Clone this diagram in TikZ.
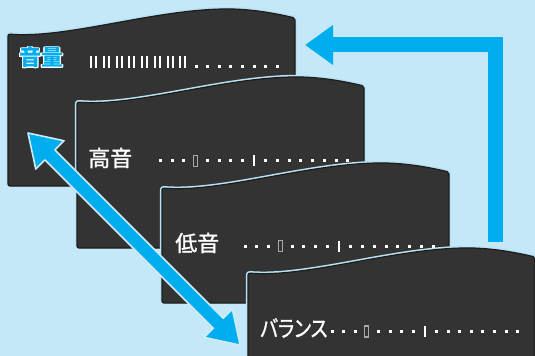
\documentclass[tikz,border=0pt]{standalone}
\usepackage{fontspec}
\usepackage{graphicx}
\usepackage{contour}
\newfontfamily\jp[FakeBold=1.2]{Noto Sans CJK JP}
\newfontfamily\jpb{Noto Sans CJK JP}
\newfontfamily\jpp[RawFeature=+palt,FakeBold=1.2]{Noto Sans CJK JP}
\usetikzlibrary{arrows.meta,calc}
\definecolor{bgc}{HTML}{C5E8F8}
\definecolor{cyanc}{HTML}{00AEEF}
\definecolor{cardc}{HTML}{333333}
\definecolor{edgec}{HTML}{1C1C1C}
\definecolor{haloc}{HTML}{B8E2F6}
\definecolor{markc}{HTML}{A8A8A8}
\contourlength{0.6pt}
\tikzset{
  cardfill/.style={fill=cardc, draw=edgec, line width=0.9pt, rounded corners=1.5pt},
  cardhalo/.style={draw=haloc, line width=3.2pt, rounded corners=1.5pt},
  lbl/.style={anchor=west, inner sep=0pt, text=white, font=\jp\fontsize{16.5}{18}\selectfont},
  dotsq/.style={fill=white},
  bigarrow/.style={fill=cyanc, draw=haloc!70!white, line width=1.2pt, line join=round},
  larrow/.style={draw=cyanc, line width=11.25pt, -{Triangle[length=21pt,width=28.5pt]}},
}
\newcommand\wavecard[3]{%
  \begin{scope}[shift={(#1,#2)}]
    \path[cardhalo] (0,#3) -- (0,0) .. controls (60,5) and (150,-26) .. (225,-25)
      .. controls (250,-24) and (270,-20) .. (287,-16) -- (287,#3);
    \path[cardfill] (0,#3) -- (0,0) .. controls (60,5) and (150,-26) .. (225,-25)
      .. controls (250,-24) and (270,-20) .. (287,-16) -- (287,#3) -- cycle;
  \end{scope}}
\newcommand\slider[3]{%
  \foreach \i in {0,1,2,4,5,6,7,9,10,...,16} {
    \fill[dotsq] (#1+\i*#3-1.5, #2-1.5) rectangle +(3,3);
  }
  \draw[markc, line width=0.8pt, fill=cardc] (#1+3*#3-2, #2-5.5) rectangle +(4,11);
  \fill[dotsq] (#1+8*#3-1, #2-5.5) rectangle +(2,11);
}
\begin{document}
\begin{tikzpicture}[x=0.75pt,y=-0.75pt]
  \useasboundingbox (0,0) rectangle (535,356);
  \clip (0,0) rectangle (535,356);
  \fill[bgc] (0,0) rectangle (535,356);

  % cards
  \wavecard{8}{34}{152}
  \wavecard{77}{102}{146}
  \wavecard{162}{188}{115}
  \wavecard{248}{273}{120}

  % card 1 : volume
  \node[lbl, text=cyanc, font=\jpb\bfseries\fontsize{16.5}{18}\selectfont] (vol) at (19,58) {\contour{white}{音量}};
  \foreach \i in {0,...,7} {
    \fill[dotsq] (93.5+12.75*\i-3.5, 56) rectangle +(2,12);
    \fill[dotsq] (93.5+12.75*\i+1.5, 56) rectangle +(2,12);
  }
  \foreach \j in {0,...,7} {
    \fill[dotsq] (196+11.6*\j-1.5, 65.5) rectangle +(3,3);
  }

  % card 2 : treble
  \node[lbl] (treble) at (88,158) {高音};
  \slider{160.5}{161}{11.7}

  % card 3 : bass
  \node[lbl] (bass) at (175,243) {低音};
  \slider{245}{246}{11.75}

  % card 4 : balance
  \node[lbl, font=\jpp\fontsize{17}{18}\selectfont] (bal) at (260,328) {\scalebox{0.83}[1]{バランス}};
  \slider{332}{331.5}{11.6}

  % L-shaped return arrow
  \coordinate (lstart) at (495,242);
  \coordinate (lend) at (305,45);
  \draw[larrow] (lstart) |- (lend);

  % diagonal double arrow
  \coordinate (dA) at (28,133);
  \coordinate (dB) at (240,345);
  \begin{scope}[shift={(dA)}, rotate=-45]
    \path[bigarrow] (0,0) -- (31,20) -- (31,7) -- (269,7) -- (269,20) -- (300,0)
      -- (269,-20) -- (269,-7) -- (31,-7) -- (31,-20) -- cycle;
  \end{scope}
\end{tikzpicture}
\end{document}
